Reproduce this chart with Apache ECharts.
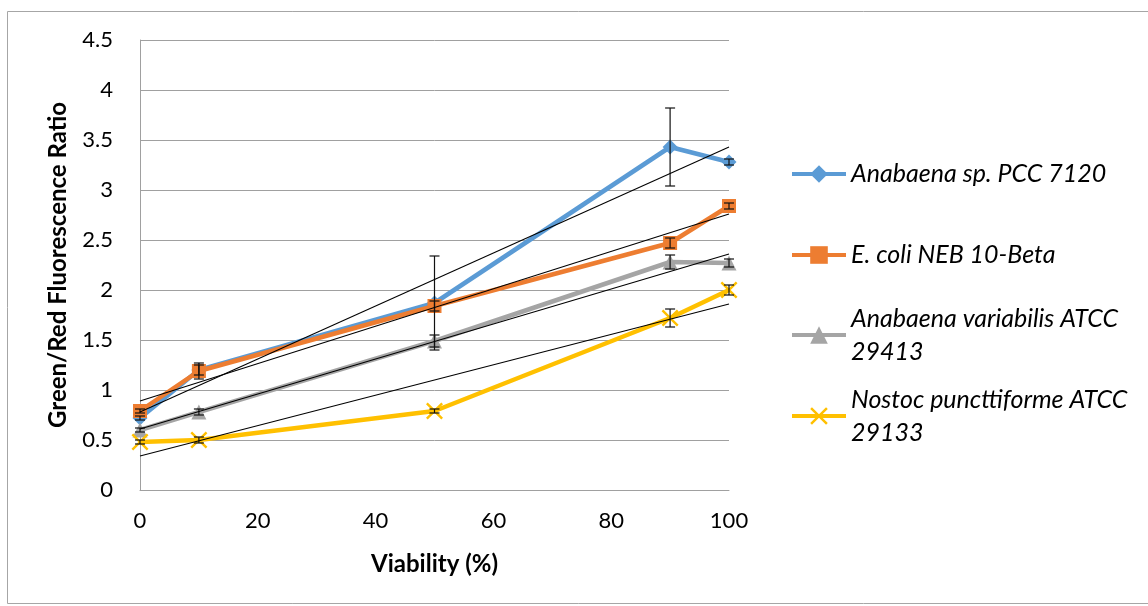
<!DOCTYPE html>
<html>
<head>
<meta charset="utf-8">
<script src="https://cdn.jsdelivr.net/npm/echarts@6/dist/echarts.min.js"></script>
<style>
  html, body { margin: 0; padding: 0; background: #fff; }
  #chart { width: 1148px; height: 606px; }
</style>
</head>
<body>
<div id="chart"></div>
<script>
// Viability levels (%)
const viability = [0, 10, 50, 90, 100];

// Series names
const seriesNames = [
  'Anabaena sp. PCC 7120',
  'E. coli NEB 10-Beta',
  'Anabaena variabilis ATCC 29413',
  'Nostoc puncttiforme ATCC 29133'
];
// Legend labels, with their line breaks
const legendLabels = [
  'Anabaena sp. PCC 7120',
  'E. coli NEB 10-Beta',
  'Anabaena variabilis ATCC\n29413',
  'Nostoc puncttiforme ATCC\n29133'
];

// Green/Red fluorescence ratio means
const anabaenaPCC = [0.72, 1.20, 1.87, 3.43, 3.28];
const ecoliNEB    = [0.79, 1.19, 1.84, 2.47, 2.84];
const anabaenaVar = [0.60, 0.78, 1.49, 2.28, 2.27];
const nostocPunct = [0.48, 0.50, 0.79, 1.72, 2.00];

// Error bar half-widths
const errPCC    = [0.02, 0.05, 0.47, 0.39, 0.03];
const errEcoli  = [0.02, 0.08, 0.05, 0.05, 0.03];
const errVar    = [0.02, 0.03, 0.06, 0.07, 0.04];
const errNostoc = [0.02, 0.03, 0.02, 0.09, 0.05];

// Linear trend lines: value at 0 % and at 100 %
const trendAt0   = [0.78, 0.89, 0.61, 0.34];
const trendAt100 = [3.43, 2.76, 2.36, 1.86];

// Axis ticks
const yTicks = { min: 0, max: 4.5, step: 0.5 };
const xTicks = { min: 0, max: 100, step: 20 };

const colors = ['#5B9BD5', '#ED7D31', '#A5A5A5', '#FFC000'];
const symbols = [
  'diamond',
  'rect',
  'triangle',
  'path://M0,1L1,0L5,4L9,0L10,1L6,5L10,9L9,10L5,6L1,10L0,9L4,5Z'
];
const symbolSizes = [15, 14, 15, 17];

const means = [anabaenaPCC, ecoliNEB, anabaenaVar, nostocPunct];
const errs = [errPCC, errEcoli, errVar, errNostoc];

const FONT = 'Lato, "Open Sans", sans-serif';

const series = [];

// Data lines
means.forEach((vals, i) => {
  series.push({
    name: seriesNames[i],
    type: 'line',
    data: viability.map((x, j) => [x, vals[j]]),
    symbol: symbols[i],
    symbolSize: symbolSizes[i],
    showAllSymbol: true,
    z: 2,
    lineStyle: { color: colors[i], width: 4.5 },
    itemStyle: { color: colors[i], borderColor: colors[i], borderWidth: 0 },
    emphasis: { disabled: true },
    animation: false
  });
});

// Error bars
means.forEach((vals, i) => {
  series.push({
    type: 'custom',
    name: seriesNames[i] + ' error',
    z: 3,
    silent: true,
    animation: false,
    data: viability.map((x, j) => [x, vals[j] - errs[i][j], vals[j] + errs[i][j]]),
    renderItem: function (params, api) {
      const lo = api.coord([api.value(0), api.value(1)]);
      const hi = api.coord([api.value(0), api.value(2)]);
      const cap = 5;
      const st = { stroke: '#111', lineWidth: 1.2 };
      return {
        type: 'group',
        children: [
          { type: 'line', shape: { x1: lo[0], y1: lo[1], x2: hi[0], y2: hi[1] }, style: st },
          { type: 'line', shape: { x1: lo[0] - cap, y1: lo[1], x2: lo[0] + cap, y2: lo[1] }, style: st },
          { type: 'line', shape: { x1: hi[0] - cap, y1: hi[1], x2: hi[0] + cap, y2: hi[1] }, style: st }
        ]
      };
    }
  });
});

// Trend lines
trendAt0.forEach((v0, i) => {
  series.push({
    type: 'line',
    name: seriesNames[i] + ' trend',
    data: [[xTicks.min, v0], [xTicks.max, trendAt100[i]]],
    symbol: 'none',
    z: 4,
    silent: true,
    lineStyle: { color: '#000', width: 1.1 },
    animation: false
  });
});

// One legend block per series so every entry sits on its own row
const legendRowCenters = [174, 255, 335, 416];
const legends = seriesNames.map((name, i) => {
  const twoLines = legendLabels[i].indexOf('\n') >= 0;
  return {
    data: [name],
    left: 790,
    top: legendRowCenters[i] - (twoLines ? 49.5 : 16.5),
    orient: 'vertical',
    itemWidth: 54,
    itemHeight: 22,
    itemGap: 0,
    padding: 0,
    selectedMode: false,
    lineStyle: { width: 4 },
    formatter: () => legendLabels[i],
    textStyle: {
      fontFamily: FONT,
      fontStyle: 'italic',
      fontSize: 25,
      color: '#000',
      lineHeight: 33,
      padding: twoLines ? [33, 0, 0, 0] : 0
    }
  };
});

const chart = echarts.init(document.getElementById('chart'), null, { renderer: 'canvas' });
chart.setOption({
  animation: false,
  backgroundColor: '#fff',
  grid: { left: 140, right: 419, top: 40, bottom: 116, containLabel: false },
  graphic: [{
    type: 'rect',
    shape: { x: 7.5, y: 11.5, width: 1160, height: 592 },
    style: { fill: 'none', stroke: '#A6A6A6', lineWidth: 1 },
    silent: true,
    z: -1
  }],
  legend: legends,
  xAxis: {
    type: 'value',
    min: xTicks.min, max: xTicks.max, interval: xTicks.step,
    name: 'Viability (%)',
    nameLocation: 'middle',
    nameGap: 62,
    nameTextStyle: { fontFamily: FONT, fontWeight: 'bold', fontSize: 24, color: '#000' },
    axisLine: { show: true, lineStyle: { color: '#A0A0A0', width: 1 } },
    axisTick: { show: false },
    splitLine: { show: false },
    axisLabel: { fontFamily: FONT, fontSize: 22, color: '#000', margin: 20 }
  },
  yAxis: {
    type: 'value',
    min: yTicks.min, max: yTicks.max, interval: yTicks.step,
    name: 'Green/Red Fluorescence Ratio',
    nameLocation: 'middle',
    nameGap: 70,
    nameTextStyle: { fontFamily: FONT, fontWeight: 'bold', fontSize: 24, color: '#000' },
    axisLine: { show: true, lineStyle: { color: '#A0A0A0', width: 1 } },
    axisTick: { show: false },
    splitLine: { show: true, lineStyle: { color: '#A0A0A0', width: 1 } },
    axisLabel: { fontFamily: FONT, fontSize: 22, color: '#000', margin: 27 }
  },
  series: series
});
</script>
</body>
</html>
